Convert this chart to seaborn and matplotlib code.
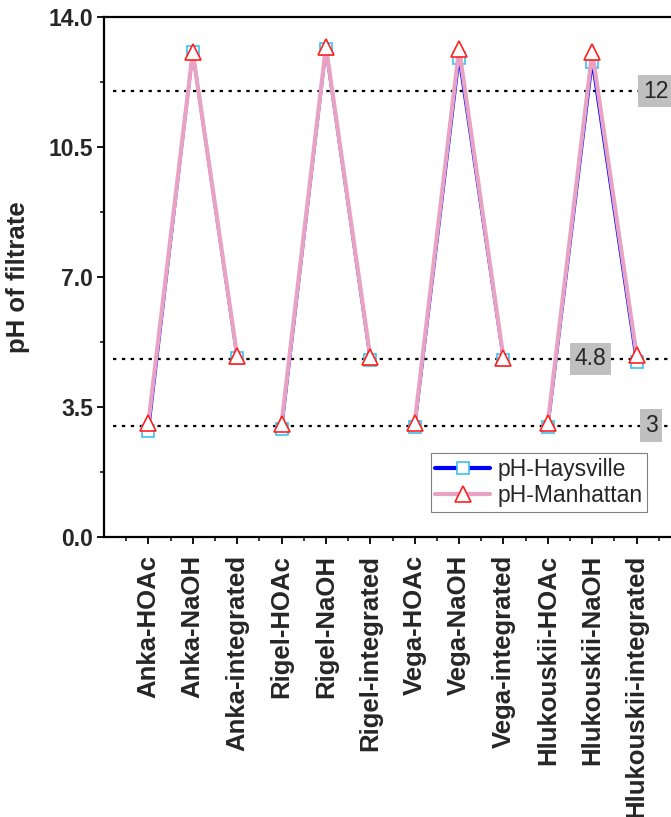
import numpy as np
import pandas as pd
import matplotlib
matplotlib.use('Agg')
import matplotlib.pyplot as plt
import seaborn as sns

# sample / treatment labels
samples = ['Anka-HOAc', 'Anka-NaOH', 'Anka-integrated',
           'Rigel-HOAc', 'Rigel-NaOH', 'Rigel-integrated',
           'Vega-HOAc', 'Vega-NaOH', 'Vega-integrated',
           'Hlukouskii-HOAc', 'Hlukouskii-NaOH', 'Hlukouskii-integrated']

ph_haysville = [2.85, 13.05, 4.82, 2.90, 13.14, 4.77,
                2.96, 12.90, 4.77, 2.96, 12.80, 4.70]
ph_manhattan = [3.08, 13.05, 4.88, 3.05, 13.20, 4.85,
                3.07, 13.14, 4.82, 3.07, 13.06, 4.90]

ref_levels = [12, 4.8, 3]
ref_labels = ['12', '4.8', '3']
ref_label_x = [11.14, 9.6, 11.18]

y_ticks = [0.0, 3.5, 7.0, 10.5, 14.0]

df = pd.DataFrame({'sample': samples,
                   'Haysville': ph_haysville,
                   'Manhattan': ph_manhattan})
df['variety'] = df['sample'].str.split('-').str[0]

sns.set_style('ticks')
plt.rcParams['font.family'] = ['Liberation Sans', 'DejaVu Sans']

fig = plt.figure(figsize=(6.71, 8.17), dpi=100)
ax = fig.add_axes([104 / 671, 280 / 817, 577 / 671, 520 / 817])

# fix category order on the x axis
ax.plot(samples, [np.nan] * len(samples))

# reference lines
for lvl in ref_levels:
    ax.hlines(lvl, -0.8, 12, colors='black', linestyles=(0, (1.5, 2.5)),
              lw=1.6, zorder=1)

first = True
for variety, sub in df.groupby('variety', sort=False):
    sns.lineplot(data=sub, x='sample', y='Haysville', sort=False, ax=ax,
                 color='#0000ff', lw=2.2, marker='s', markersize=9,
                 markerfacecolor='white', markeredgecolor='#3cc0f0',
                 markeredgewidth=1.2, zorder=3,
                 label='pH-Haysville' if first else None)
    sns.lineplot(data=sub, x='sample', y='Manhattan', sort=False, ax=ax,
                 color='#e8a2c4', lw=3.0, marker='^', markersize=12,
                 markerfacecolor='white', markeredgecolor='#ff2020',
                 markeredgewidth=1.2, zorder=4,
                 label='pH-Manhattan' if first else None)
    first = False

for lvl, lab, xp in zip(ref_levels, ref_labels, ref_label_x):
    ax.text(xp, lvl, lab, fontsize=16.5, ha='left', va='center', zorder=6,
            bbox=dict(boxstyle='square,pad=0.2', facecolor='#c0c0c0',
                      edgecolor='none'))

ax.set_xlim(-1, 12)
ax.set_ylim(0, 14)
ax.set_yticks(y_ticks)
ax.set_yticklabels([f'{v:.1f}' for v in y_ticks], fontsize=16.5,
                   fontweight='bold')
ax.set_yticks(np.arange(1.75, 14, 3.5), minor=True)
ax.set_xticks(range(len(samples)))
ax.set_xticklabels(samples, rotation=90, fontsize=18.5, fontweight='bold')
ax.set_xticks(np.arange(-0.5, 12, 1), minor=True)

ax.tick_params(axis='both', which='major', direction='out', length=5,
               width=1.3, color='black', pad=3)
ax.tick_params(axis='both', which='minor', direction='out', length=3,
               width=1.1, color='black')
ax.tick_params(axis='x', which='major', pad=8)

for side in ['left', 'bottom', 'top', 'right']:
    ax.spines[side].set_visible(True)
    ax.spines[side].set_linewidth(1.6)
    ax.spines[side].set_color('black')

ax.set_xlabel('')
ax.set_ylabel('pH of filtrate', fontsize=18.5, fontweight='bold')
ax.yaxis.set_label_coords(-0.128, 0.5)

leg = ax.legend(loc='upper right', bbox_to_anchor=(647 / 671, 1 - 453 / 817),
                bbox_transform=fig.transFigure, fontsize=16.5, frameon=True,
                fancybox=False, handlelength=2.4, borderpad=0.2,
                labelspacing=0.15, handletextpad=0.3, borderaxespad=0)
leg.get_frame().set_edgecolor('#606060')
leg.get_frame().set_linewidth(0.8)
for line in leg.get_lines():
    line.set_linewidth(3.0)

fig.savefig('out.png', dpi=100)
